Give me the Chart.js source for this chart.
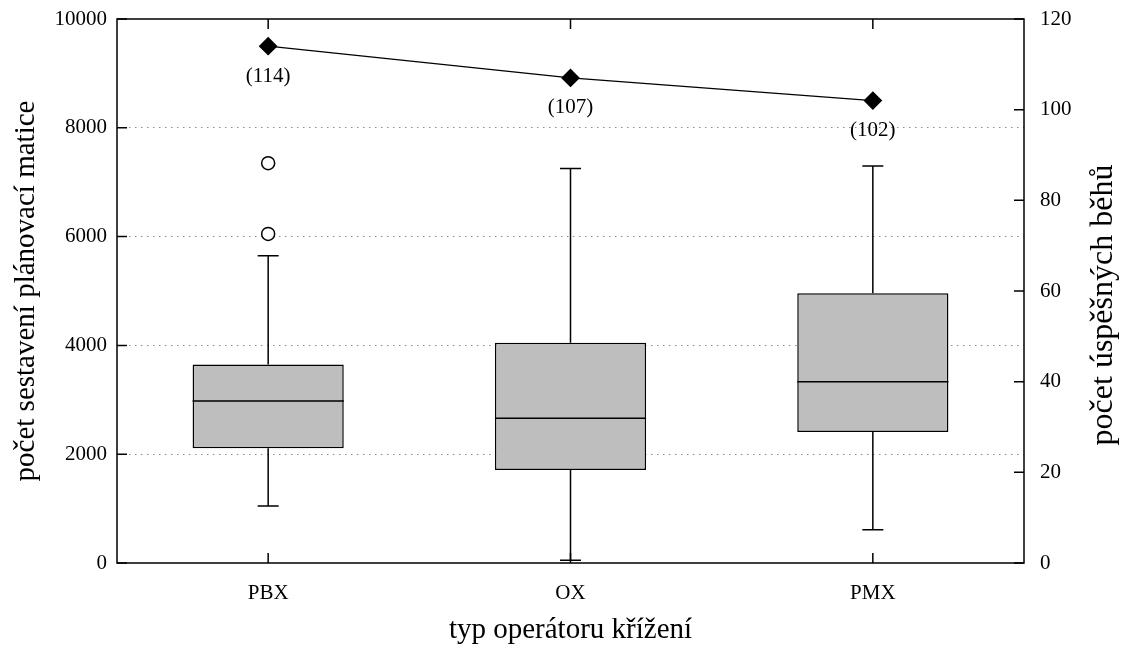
<!DOCTYPE html>
<html lang="cs">
<head>
  <meta charset="UTF-8" />
  <title>Počet sestavení plánovací matice</title>
  <script src="https://cdn.jsdelivr.net/npm/chart.js"></script>
  <style>
    html, body {
      margin: 0;
      padding: 0;
      background: #fff;
    }
    #wrap {
      width: 1127px;
      height: 648px;
    }
  </style>
  <script>
    // data
    const operators = ['PBX', 'OX', 'PMX'];
    const whiskerLow = [1050, 50, 610];
    const quartile1 = [2110, 1710, 2410];
    const medians = [2980, 2660, 3330];
    const quartile3 = [3650, 4050, 4960];
    const whiskerHigh = [5650, 7250, 7300];
    const outliers = [{ x: 'PBX', y: 7350 }, { x: 'PBX', y: 6050 }];
    const successRuns = [114, 107, 102];
    const leftTicks = [0, 2000, 4000, 6000, 8000, 10000];
    const rightTicks = [0, 20, 40, 60, 80, 100, 120];

    const serif = 'Liberation Serif';

    // fixed box sizes so the plot area sits where the reference has it
    function fixBox(size) {
      return s => {
        if (s.isHorizontal()) s.height = size; else s.width = size;
        s.paddingTop = 0;
        s.paddingBottom = 0;
        s.paddingLeft = 0;
        s.paddingRight = 0;
      };
    }

    // whiskers, medians, frame, inward ticks and value labels
    const boxExtras = {
      id: 'boxExtras',
      afterDatasetDraw(chart, args) {
        if (args.index !== 0) return;
        const ctx = chart.ctx;
        const x = chart.scales.x;
        const y = chart.scales.y;
        const bars = chart.getDatasetMeta(0).data;
        ctx.save();
        ctx.strokeStyle = '#000';
        ctx.lineWidth = 1.5;
        operators.forEach((op, i) => {
          const cx = x.getPixelForValue(i);
          const half = bars[i].width / 2;
          const cap = 10.5;
          ctx.beginPath();
          // upper whisker
          ctx.moveTo(cx, y.getPixelForValue(quartile3[i]));
          ctx.lineTo(cx, y.getPixelForValue(whiskerHigh[i]));
          ctx.moveTo(cx - cap, y.getPixelForValue(whiskerHigh[i]));
          ctx.lineTo(cx + cap, y.getPixelForValue(whiskerHigh[i]));
          // lower whisker
          ctx.moveTo(cx, y.getPixelForValue(quartile1[i]));
          ctx.lineTo(cx, y.getPixelForValue(whiskerLow[i]));
          ctx.moveTo(cx - cap, y.getPixelForValue(whiskerLow[i]));
          ctx.lineTo(cx + cap, y.getPixelForValue(whiskerLow[i]));
          // median
          ctx.moveTo(cx - half, y.getPixelForValue(medians[i]));
          ctx.lineTo(cx + half, y.getPixelForValue(medians[i]));
          ctx.stroke();
        });
        ctx.restore();
      },
      afterDraw(chart) {
        const ctx = chart.ctx;
        const area = chart.chartArea;
        const x = chart.scales.x;
        const y = chart.scales.y;
        const y1 = chart.scales.y1;
        const tl = 10;
        ctx.save();
        ctx.strokeStyle = '#000';
        ctx.lineWidth = 1.5;
        ctx.strokeRect(area.left, area.top, area.right - area.left, area.bottom - area.top);
        ctx.beginPath();
        leftTicks.forEach(v => {
          const py = y.getPixelForValue(v);
          ctx.moveTo(area.left, py);
          ctx.lineTo(area.left + tl, py);
        });
        rightTicks.forEach(v => {
          const py = y1.getPixelForValue(v);
          ctx.moveTo(area.right, py);
          ctx.lineTo(area.right - tl, py);
        });
        operators.forEach((op, i) => {
          const px = x.getPixelForValue(i);
          ctx.moveTo(px, area.bottom);
          ctx.lineTo(px, area.bottom - tl);
          ctx.moveTo(px, area.top);
          ctx.lineTo(px, area.top + tl);
        });
        ctx.stroke();

        // "(114)" style labels under the diamonds
        ctx.fillStyle = '#000';
        ctx.font = '21px "' + serif + '"';
        ctx.textAlign = 'center';
        ctx.textBaseline = 'middle';
        successRuns.forEach((v, i) => {
          ctx.fillText('(' + v + ')', x.getPixelForValue(i), y1.getPixelForValue(v) + 30);
        });

        // right axis title, reading bottom to top like the left one
        ctx.font = '32px "' + serif + '"';
        ctx.translate(1104, 305);
        ctx.rotate(-Math.PI / 2);
        ctx.fillText('počet úspěšných běhů', 0, 0);
        ctx.restore();
      }
    };

    window.onload = () => {
      const ctx = document.getElementById('boxChart').getContext('2d');
      new Chart(ctx, {
        data: {
          labels: operators,
          datasets: [
            {
              type: 'bar',
              label: 'kvartily',
              data: operators.map((op, i) => [quartile1[i], quartile3[i]]),
              backgroundColor: '#bebebe',
              borderColor: '#000',
              borderWidth: 1.5,
              borderSkipped: false,
              barPercentage: 0.5,
              categoryPercentage: 1,
              yAxisID: 'y',
              order: 3
            },
            {
              type: 'line',
              label: 'odlehlé hodnoty',
              data: outliers,
              showLine: false,
              pointStyle: 'circle',
              pointRadius: 6.5,
              pointBorderWidth: 1.5,
              pointBackgroundColor: '#fff',
              pointBorderColor: '#000',
              yAxisID: 'y',
              order: 2
            },
            {
              type: 'line',
              label: 'počet úspěšných běhů',
              data: successRuns,
              borderColor: '#000',
              borderWidth: 1.3,
              pointStyle: 'rectRot',
              pointRadius: 8.5,
              pointBackgroundColor: '#000',
              pointBorderColor: '#000',
              tension: 0,
              yAxisID: 'y1',
              order: 1
            }
          ]
        },
        options: {
          responsive: false,
          animation: false,
          layout: {
            padding: { top: 19, left: 0, right: 0, bottom: 0 }
          },
          plugins: {
            legend: { display: false },
            tooltip: { enabled: false }
          },
          scales: {
            x: {
              type: 'category',
              offset: true,
              grid: { display: false, drawTicks: false },
              border: { display: false },
              ticks: {
                color: '#000',
                padding: 18,
                font: { family: serif, size: 21 }
              },
              title: {
                display: true,
                text: 'typ operátoru křížení',
                color: '#000',
                font: { family: serif, size: 29 },
                padding: { top: 0, bottom: 0 }
              },
              afterFit: fixBox(85)
            },
            y: {
              position: 'left',
              min: 0,
              max: 10000,
              afterBuildTicks: s => { s.ticks = leftTicks.map(v => ({ value: v })); },
              grid: {
                drawTicks: false,
                color: c => (c.tick && (c.tick.value === 0 || c.tick.value === 10000)) ? 'rgba(0,0,0,0)' : '#8a8a8a',
                lineWidth: 1
              },
              border: { display: false, dash: [1.5, 4.5] },
              ticks: {
                color: '#000',
                padding: 10,
                font: { family: serif, size: 21 },
                callback: v => String(v)
              },
              title: {
                display: true,
                text: 'počet sestavení plánovací matice',
                color: '#000',
                font: { family: serif, size: 29 },
                padding: { top: 9, bottom: 0 }
              },
              afterFit: fixBox(117)
            },
            y1: {
              position: 'right',
              min: 0,
              max: 120,
              afterBuildTicks: s => { s.ticks = rightTicks.map(v => ({ value: v })); },
              grid: { display: false, drawTicks: false },
              border: { display: false },
              ticks: {
                color: '#000',
                padding: 16,
                font: { family: serif, size: 21 },
                callback: v => String(v)
              },
              afterFit: fixBox(103)
            }
          }
        },
        plugins: [boxExtras]
      });
    };
  </script>
</head>
<body>
  <div id="wrap">
    <canvas id="boxChart" width="1127" height="648"></canvas>
  </div>
</body>
</html>
